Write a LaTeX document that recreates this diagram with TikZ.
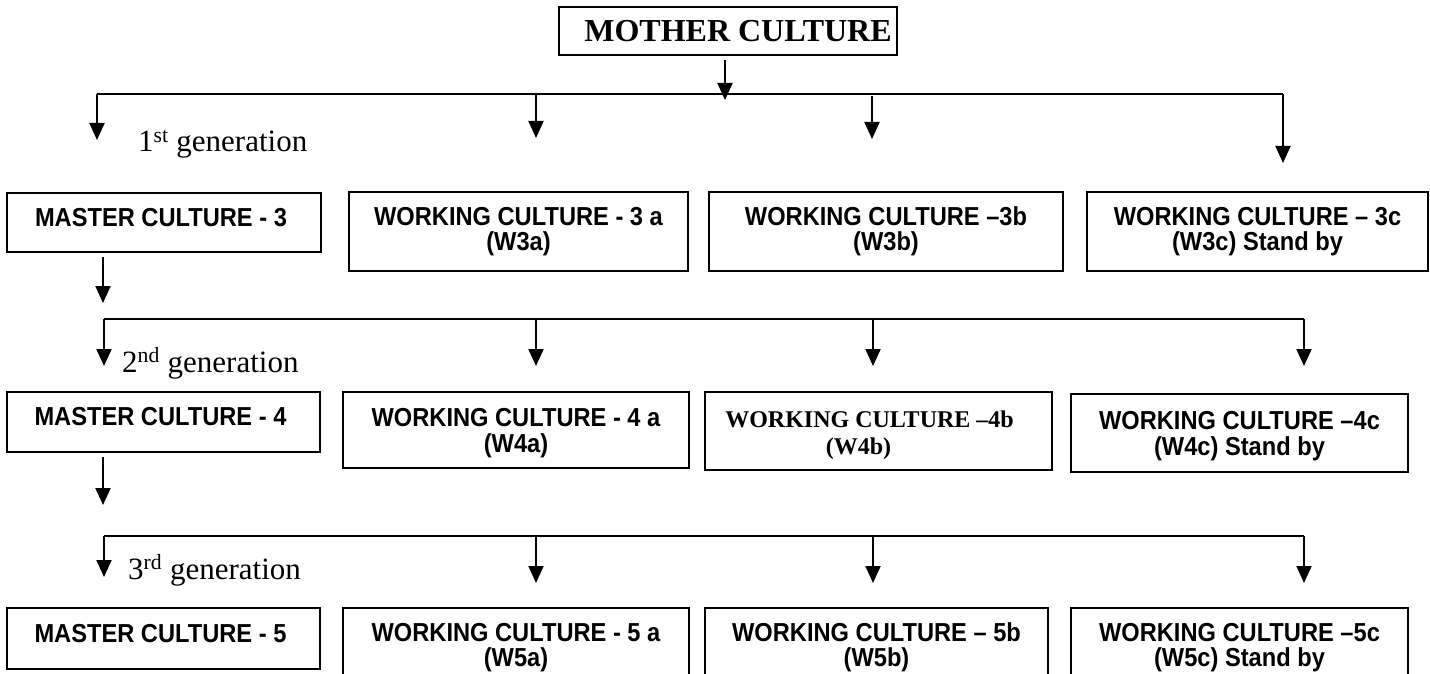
\documentclass[tikz,border=0pt]{standalone}
\usepackage{fontspec}
\setmainfont{Liberation Serif}
\setsansfont{Liberation Sans}
\usepackage{graphicx}
\usetikzlibrary{arrows.meta}
\newcommand\nw[1]{\scalebox{0.91}[1]{#1}}
\begin{document}
\begin{tikzpicture}[x=1pt,y=-1pt,
  box/.style={draw,line width=2pt,inner sep=0pt,align=center},
  wbox/.style={box,font=\sffamily\bfseries\fontsize{26}{25.5}\selectfont},
  sbox/.style={box,font=\rmfamily\bfseries\fontsize{24}{27}\selectfont},
  mbox/.style={box,font=\sffamily\bfseries\fontsize{26}{25}\selectfont,text height=19pt,text depth=12pt},
  arr/.style={line width=2pt,-{Triangle[width=15pt,length=17pt]}},
  ln/.style={line width=2pt},
  gen/.style={font=\rmfamily\fontsize{31}{31}\selectfont,anchor=base west,inner sep=0pt}]
\useasboundingbox (0,0) rectangle (1430,674);
\clip (0,0) rectangle (1430,674);

% mother
\node[box,font=\rmfamily\bfseries\fontsize{32}{32}\selectfont,minimum width=338pt,minimum height=48pt] (mother) at (728,31) {\hspace{20pt}MOTHER CULTURE};

% row 1 boxes
\node[mbox,minimum width=314pt,minimum height=59pt] (m3) at (164,222.5) {\nw{MASTER CULTURE - 3}\hspace*{6pt}};
\node[wbox,minimum width=339pt,minimum height=79pt] (w3a) at (518.5,231.5) {\nw{WORKING CULTURE - 3 a}\\\nw{(W3a)}};
\node[wbox,minimum width=354pt,minimum height=79pt] (w3b) at (886,231.5) {\nw{WORKING CULTURE --3b}\\\nw{(W3b)}};
\node[wbox,minimum width=341pt,minimum height=79pt] (w3c) at (1257.5,231.5) {\nw{WORKING CULTURE -- 3c}\\\nw{(W3c) Stand by}};

% row 2 boxes
\node[mbox,minimum width=313pt,minimum height=60pt] (m4) at (163.5,422) {\nw{MASTER CULTURE - 4}\hspace*{6pt}};
\node[wbox,minimum width=346pt,minimum height=76pt] (w4a) at (516,430) {\rule{0pt}{24pt}\nw{WORKING CULTURE - 4 a}\\\nw{(W4a)}};
\node[sbox,minimum width=347pt,minimum height=78pt] (w4b) at (878.5,431) {\rule{0pt}{26pt}WORKING CULTURE --4b\hspace*{18pt}\\(W4b)\hspace*{40pt}};
\node[wbox,minimum width=337pt,minimum height=78pt] (w4c) at (1239.5,433) {\rule{0pt}{24pt}\nw{WORKING CULTURE --4c}\\\nw{(W4c) Stand by}};

% row 3 boxes
\node[mbox,minimum width=313pt,minimum height=61pt] (m5) at (163.5,638.5) {\nw{MASTER CULTURE - 5}\hspace*{6pt}};
\node[wbox,minimum width=346pt,minimum height=79pt] (w5a) at (516,647.5) {\nw{WORKING CULTURE - 5 a}\\\nw{(W5a)}};
\node[wbox,minimum width=343pt,minimum height=79pt] (w5b) at (876.5,647.5) {\nw{WORKING CULTURE -- 5b}\\\nw{(W5b)}};
\node[wbox,minimum width=337pt,minimum height=79pt] (w5c) at (1239.5,647.5) {\nw{WORKING CULTURE --5c}\\\nw{(W5c) Stand by}};

% generation labels
\node[gen] (g1) at (138,152) {1\textsuperscript{st} generation};
\node[gen] (g2) at (122,372) {2\textsuperscript{nd} generation};
\node[gen] (g3) at (128,579) {3\textsuperscript{rd} generation};

% row 1 connectors
\coordinate (ms) at (725,60);
\coordinate (mt) at (725,100);
\coordinate (r1a) at (97,94);
\coordinate (r1b) at (536,94);
\coordinate (r1c) at (872,96);
\coordinate (r1d) at (1283,94);
\draw[arr] (ms) -- (mt);
\draw[ln] (r1a) -- (r1d);
\draw[arr] (r1a) -- (97,140);
\draw[arr] (r1b) -- (536,138);
\draw[arr] (r1c) -- (872,139);
\draw[arr] (r1d) -- (1283,163);

% row 2 connectors
\coordinate (m3s) at (103,257);
\coordinate (m3t) at (103,303);
\coordinate (r2a) at (104,319);
\coordinate (r2b) at (536,319);
\coordinate (r2c) at (873,319);
\coordinate (r2d) at (1304,319);
\draw[arr] (m3s) -- (m3t);
\draw[ln] (r2a) -- (r2d);
\draw[arr] (r2a) -- (104,366);
\draw[arr] (r2b) -- (536,366);
\draw[arr] (r2c) -- (873,366);
\draw[arr] (r2d) -- (1304,366);

% row 3 connectors
\coordinate (m4s) at (103,457);
\coordinate (m4t) at (103,505);
\coordinate (r3a) at (104,536);
\coordinate (r3b) at (536,536);
\coordinate (r3c) at (873,536);
\coordinate (r3d) at (1304,536);
\draw[arr] (m4s) -- (m4t);
\draw[ln] (r3a) -- (r3d);
\draw[arr] (r3a) -- (104,577);
\draw[arr] (r3b) -- (536,583);
\draw[arr] (r3c) -- (873,583);
\draw[arr] (r3d) -- (1304,583);
\end{tikzpicture}
\end{document}
